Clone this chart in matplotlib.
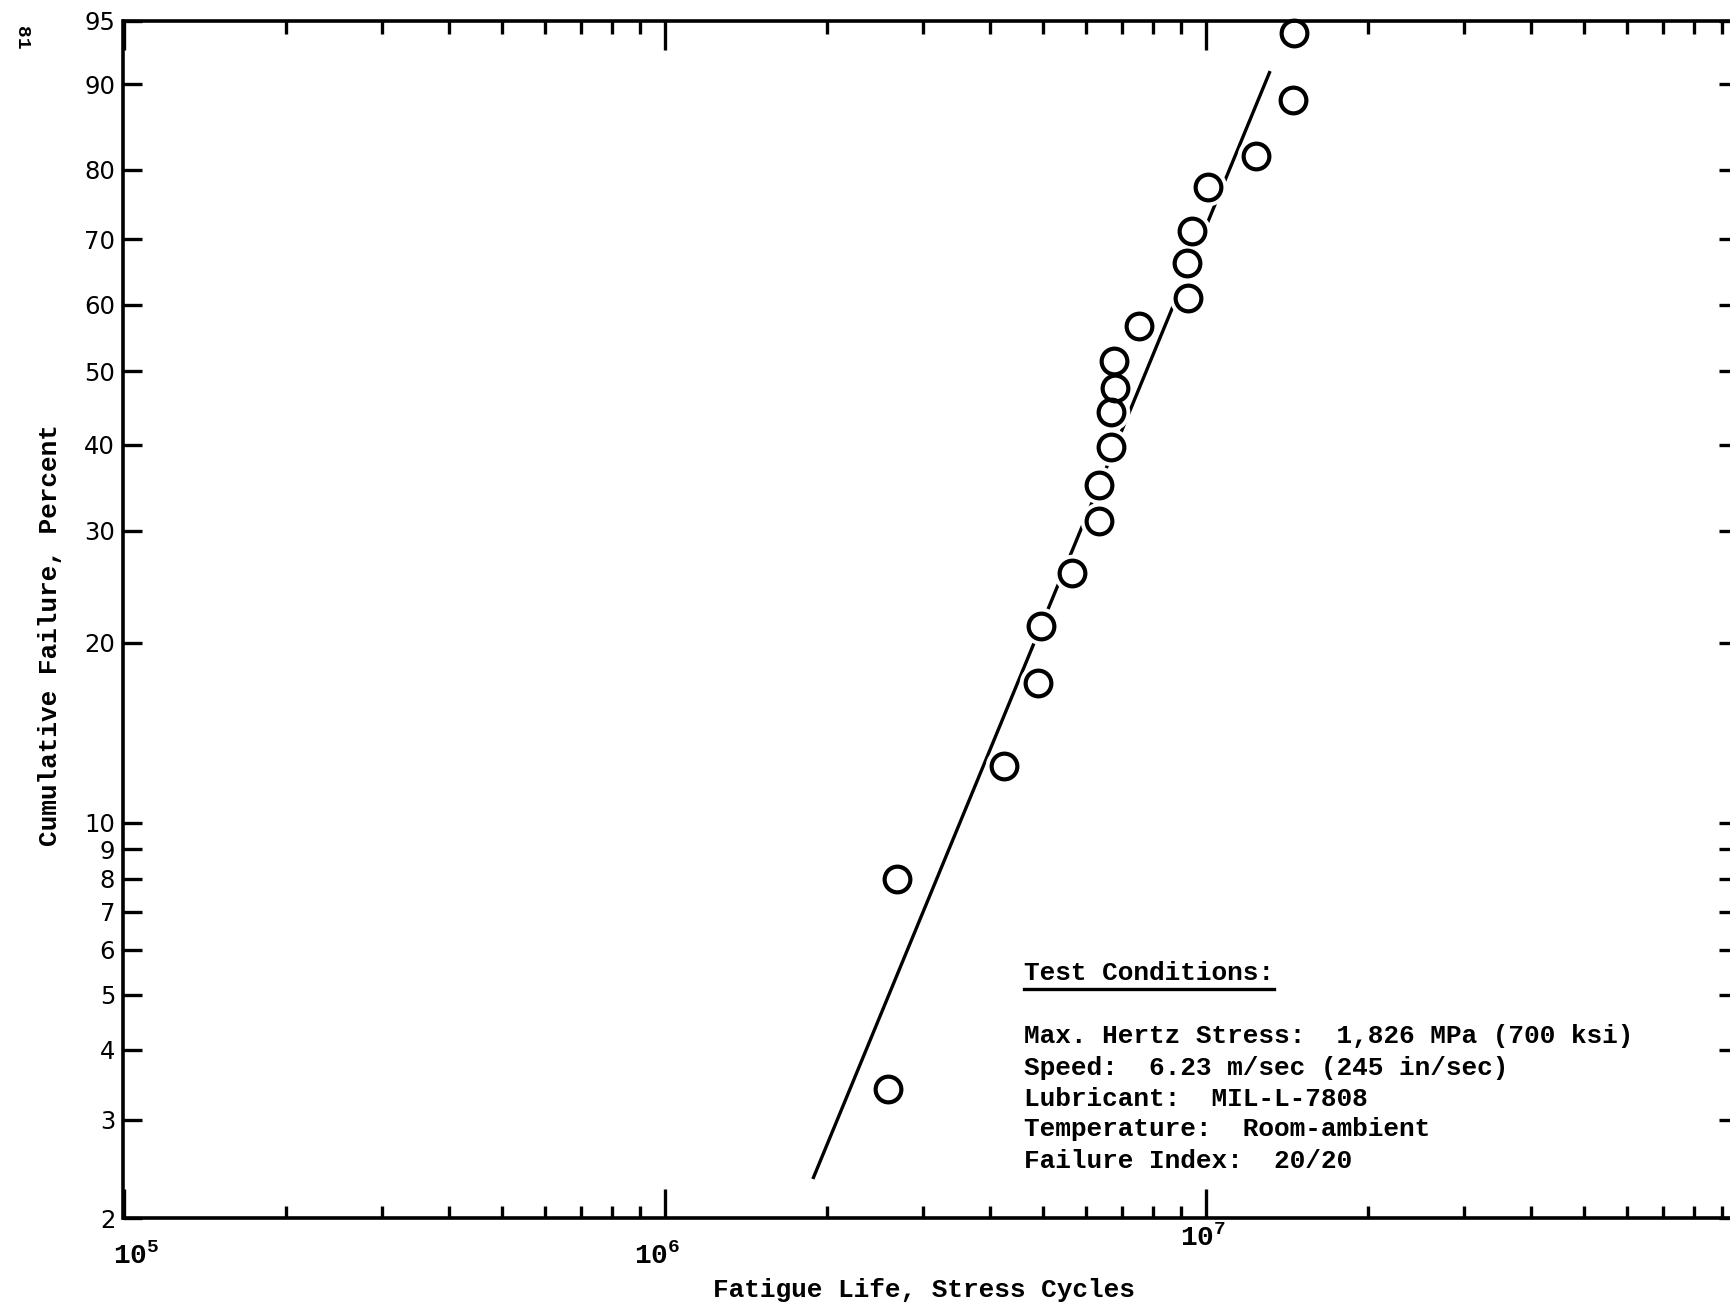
import numpy as np
import matplotlib
matplotlib.use("Agg")
import matplotlib.pyplot as plt
from matplotlib.lines import Line2D
from matplotlib.ticker import (FixedLocator, FixedFormatter, NullFormatter,
                               NullLocator, LogLocator)

# ---- data -------------------------------------------------------------
# fatigue life of each failed specimen (stress cycles) and its plotted
# cumulative failure (percent)
life_cycles = [1.46e7, 1.45e7, 1.24e7, 1.01e7, 9.42e6, 9.25e6, 9.29e6,
               7.53e6, 6.77e6, 6.80e6, 6.70e6, 6.70e6, 6.36e6, 6.36e6,
               5.66e6, 4.97e6, 4.90e6, 4.24e6, 2.69e6, 2.59e6]
failure_pct = [94.2, 88.4, 81.8, 77.7, 71.2, 66.4, 61.0,
               56.8, 51.5, 47.7, 44.3, 39.7, 35.0, 31.0,
               25.8, 21.3, 17.2, 12.5, 8.0, 3.41]

# Weibull line drawn through the data (end points)
fit_life = [1.88e6, 1.316e7]
fit_pct = [2.35, 91.2]

pct_ticks = [2, 3, 4, 5, 6, 7, 8, 9, 10, 20, 30, 40, 50, 60, 70, 80, 90, 95]
pct_labels = [str(p) for p in pct_ticks]

decade_values = [1e5, 1e6, 1e7]
decade_labels = [r"$\mathregular{10^5}$", r"$\mathregular{10^6}$", r"$\mathregular{10^7}$"]

conditions_title = "Test Conditions:"
conditions = [
    "Max. Hertz Stress:  1,826 MPa (700 ksi)",
    "Speed:  6.23 m/sec (245 in/sec)",
    "Lubricant:  MIL-L-7808",
    "Temperature:  Room-ambient",
    "Failure Index:  20/20",
]


# ---- Weibull probability scale ----------------------------------------
def weibull_fwd(p):
    p = np.clip(np.asarray(p, dtype=float) / 100.0, 1e-12, 1 - 1e-12)
    return np.log(-np.log(1.0 - p))


def weibull_inv(w):
    return 100.0 * (1.0 - np.exp(-np.exp(np.asarray(w, dtype=float))))


W, H = 1731, 1306
DPI = 100
fig = plt.figure(figsize=(W / DPI, H / DPI), dpi=DPI, facecolor="white")

mono = "Liberation Mono"
sans = "DejaVu Sans"
TXT = 18.8

left_px, right_px, top_px, bottom_px = 123.5, 1738.0, 21.0, 1218.0
ax = fig.add_axes([left_px / W, (H - bottom_px) / H,
                   (right_px - left_px) / W, (bottom_px - top_px) / H])

ax.set_xscale("log")
ax.set_yscale("function", functions=(weibull_fwd, weibull_inv))
ax.set_xlim(1e5, 9.64e7)
ax.set_ylim(2, 95)

for s in ax.spines.values():
    s.set_linewidth(2.6)
    s.set_color("black")

# y ticks on both sides, pointing inward
ax.yaxis.set_major_locator(FixedLocator(pct_ticks))
ax.yaxis.set_major_formatter(FixedFormatter(pct_labels))
ax.yaxis.set_minor_locator(NullLocator())
ax.tick_params(axis="y", which="major", left=True, right=True, direction="in",
               length=14, width=2.4, labelsize=17.5, pad=6)
for lab in ax.get_yticklabels():
    lab.set_fontfamily(sans)

# x ticks: decades long, intermediate short, top and bottom
ax.xaxis.set_major_locator(FixedLocator([1e5, 1e6, 1e7, 1e8]))
ax.xaxis.set_minor_locator(LogLocator(base=10, subs=np.arange(2, 10), numticks=20))
ax.xaxis.set_major_formatter(NullFormatter())
ax.xaxis.set_minor_formatter(NullFormatter())
ax.tick_params(axis="x", which="major", top=True, bottom=True, direction="in",
               length=21, width=2.4)
ax.tick_params(axis="x", which="minor", top=True, bottom=True, direction="in",
               length=9, width=2.4)

# decade labels under the axis
label_offsets = [(13, -46), (-7, -46), (-3, -28)]
for v, lab, (dx, dy) in zip(decade_values, decade_labels, label_offsets):
    ax.annotate(lab, xy=(v, 0), xycoords=("data", "axes fraction"),
                xytext=(dx, dy), textcoords="offset pixels",
                ha="center", va="baseline", fontsize=20,
                family=mono, weight="bold", annotation_clip=False)

# fitted line, white halo around each point, then the open circles
ax.plot(fit_life, fit_pct, color="black", lw=2.4, solid_capstyle="butt", zorder=2)
ax.plot(life_cycles, failure_pct, linestyle="none", marker="o", markersize=27,
        markerfacecolor="white", markeredgewidth=0, zorder=2.2, clip_on=False)
ax.plot(life_cycles, failure_pct, linestyle="none", marker="o", markersize=18.5,
        markerfacecolor="none", markeredgecolor="black", markeredgewidth=3.0,
        zorder=3, clip_on=False)

# axis titles
fig.text(50 / W, 1 - 635 / H, "Cumulative Failure, Percent", rotation=90,
         ha="center", va="center", fontsize=TXT, family=mono, weight="bold")
fig.text(923.5 / W, 1 - 1289.5 / H, "Fatigue Life, Stress Cycles",
         ha="center", va="center", fontsize=TXT, family=mono, weight="bold")

# test conditions block
x0 = 1024.5 / W
title = fig.text(x0, 1 - 972.6 / H, conditions_title, ha="left", va="center",
                 fontsize=TXT, family=mono, weight="bold")
line_y = [1035.6, 1067.6, 1098.5, 1129.4, 1161.4]
for y, txt in zip(line_y, conditions):
    fig.text(x0, 1 - y / H, txt, ha="left", va="center", fontsize=TXT,
             family=mono, weight="bold")

fig.canvas.draw()
bb = title.get_window_extent(fig.canvas.get_renderer())
uy = (bb.y0 - 4) / H
fig.add_artist(Line2D([bb.x0 / W, bb.x1 / W], [uy, uy], color="black", lw=2.4,
                      transform=fig.transFigure))

# page number in the margin
fig.text(22 / W, 1 - 38 / H, "81", rotation=-90, ha="center", va="center",
         fontsize=14, family=mono, weight="bold")

fig.savefig("out.png", dpi=DPI, facecolor="white")
